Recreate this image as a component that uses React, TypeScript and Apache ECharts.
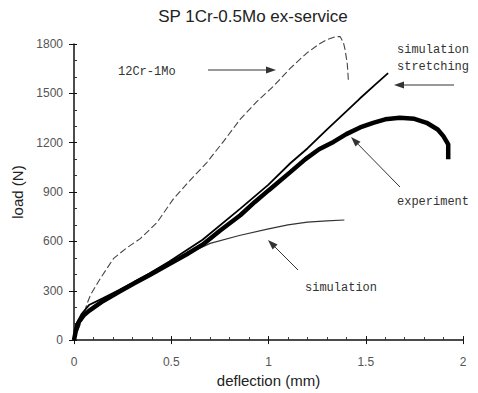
import React, { useEffect, useRef } from "react";
import * as echarts from "echarts";

const titleText = "SP 1Cr-0.5Mo ex-service";
const xName = "deflection (mm)";
const yName = "load (N)";

// 12Cr-1Mo (dashed)
const crX = [0, 0.02, 0.05, 0.065, 0.085, 0.136, 0.204, 0.27, 0.341, 0.427, 0.512, 0.6, 0.684, 0.77, 0.855, 0.94, 1.026, 1.11, 1.197, 1.26, 1.3, 1.34, 1.368, 1.385, 1.394, 1.405, 1.411];
const crY = [0, 60, 150, 215, 275, 376, 497, 560, 617, 715, 860, 975, 1081, 1210, 1343, 1450, 1544, 1650, 1745, 1800, 1826, 1843, 1846, 1810, 1765, 1680, 1574];

// simulation stretching (thin solid)
const stX = [0, 0.009, 0.04, 0.077, 0.15, 0.232, 0.387, 0.49, 0.661, 0.855, 1.0, 1.112, 1.2, 1.3, 1.4, 1.471, 1.55, 1.615];
const stY = [0, 92, 160, 213, 255, 305, 405, 478, 610, 799, 945, 1075, 1165, 1280, 1390, 1470, 1555, 1623];

// experiment (thick)
const exX = [0, 0.01, 0.026, 0.05, 0.077, 0.15, 0.232, 0.31, 0.387, 0.49, 0.58, 0.661, 0.75, 0.855, 0.93, 1.0, 1.112, 1.19, 1.26, 1.334, 1.4, 1.471, 1.538, 1.6, 1.675, 1.75, 1.813, 1.87, 1.899, 1.924, 1.924];
const exY = [0, 60, 113, 150, 178, 238, 294, 345, 394, 462, 522, 580, 665, 759, 840, 910, 1021, 1100, 1160, 1205, 1252, 1293, 1321, 1342, 1351, 1345, 1321, 1280, 1240, 1190, 1099];

// simulation (thin, lower)
const smX = [0, 0.01, 0.026, 0.05, 0.077, 0.15, 0.232, 0.387, 0.49, 0.593, 0.7, 0.85, 1.0, 1.1, 1.2, 1.3, 1.39];
const smY = [0, 60, 110, 148, 172, 230, 290, 390, 460, 530, 588, 636, 676, 700, 717, 725, 730];

const xTicks = { min: 0, max: 2, interval: 0.5 };
const yTicks = { min: 0, max: 1800, interval: 300 };

const pairs = (xs: number[], ys: number[]) => xs.map((x, i) => [x, ys[i]]);

function arrow(x1: number, y1: number, x2: number, y2: number, color = "#333") {
  const a = Math.atan2(y2 - y1, x2 - x1);
  const hl = 10;
  const hw = 3.5;
  const bx = x2 - hl * Math.cos(a);
  const by = y2 - hl * Math.sin(a);
  const px = -Math.sin(a) * hw;
  const py = Math.cos(a) * hw;
  return [
    { type: "line", shape: { x1, y1, x2: bx, y2: by }, style: { stroke: color, lineWidth: 1 } },
    {
      type: "polygon",
      shape: { points: [[x2, y2], [bx + px, by + py], [bx - px, by - py]] },
      style: { fill: color },
    },
  ];
}

const annFont = "Liberation Mono";
function label(text: string, x: number, y: number) {
  return {
    type: "text",
    x,
    y,
    style: {
      text,
      fill: "#333",
      fontSize: 12,
      fontFamily: annFont,
      verticalAlign: "middle",
      align: "left",
    },
  };
}

export default function App() {
  const ref = useRef<HTMLDivElement>(null);
  useEffect(() => {
    if (!ref.current) return;
    const chart = echarts.init(ref.current, null, { renderer: "svg" });
    const axisFont = "Liberation Sans";
    chart.setOption({
      animation: false,
      backgroundColor: "#fff",
      title: {
        text: titleText,
        left: 248,
        textAlign: "center",
        top: 3,
        textStyle: { fontSize: 17, fontWeight: "normal", color: "#222", fontFamily: axisFont },
      },
      grid: { left: 74, right: 15, top: 44, bottom: 51 },
      xAxis: [
        {
          type: "value",
          ...xTicks,
          name: xName,
          nameLocation: "middle",
          nameGap: 32,
          nameTextStyle: { fontSize: 15, color: "#222", fontFamily: axisFont },
          axisLine: { show: true, lineStyle: { color: "#111", width: 1.5 } },
          axisTick: { show: true, inside: true, length: 4, lineStyle: { color: "#111" } },
          minorTick: { show: true, splitNumber: 5, length: 3, lineStyle: { color: "#333" } },
          splitLine: { show: false },
          axisLabel: { fontSize: 12, color: "#555", margin: 16, fontFamily: axisFont },
        },
        {
          type: "value",
          ...xTicks,
          position: "bottom",
          axisLine: { show: false },
          axisTick: { show: true, inside: false, length: 4, lineStyle: { color: "#111" } },
          axisLabel: { show: false },
          splitLine: { show: false },
        },
      ],
      yAxis: [
        {
          type: "value",
          ...yTicks,
          name: yName,
          nameLocation: "middle",
          nameGap: 38,
          nameTextStyle: { fontSize: 15, color: "#222", fontFamily: axisFont },
          axisLine: { show: true, lineStyle: { color: "#111", width: 1.5 } },
          axisTick: { show: true, inside: true, length: 3, lineStyle: { color: "#111" } },
          minorTick: { show: true, splitNumber: 3, length: 3, lineStyle: { color: "#333" } },
          splitLine: { show: false },
          axisLabel: {
            fontSize: 12,
            color: "#555",
            margin: 11,
            fontFamily: axisFont,
            formatter: (v: number) => String(v),
          },
        },
        {
          type: "value",
          ...yTicks,
          position: "left",
          axisLine: { show: false },
          axisTick: { show: true, inside: false, length: 5, lineStyle: { color: "#111" } },
          axisLabel: { show: false },
          splitLine: { show: false },
        },
      ],
      series: [
        {
          name: "12Cr-1Mo",
          type: "line",
          data: pairs(crX, crY),
          symbol: "none",
          clip: false,
          lineStyle: { color: "#444", width: 1.1, type: [7, 3] },
        },
        {
          name: "simulation",
          type: "line",
          data: pairs(smX, smY),
          symbol: "none",
          clip: false,
          lineStyle: { color: "#333", width: 1.2 },
        },
        {
          name: "experiment",
          type: "line",
          data: pairs(exX, exY),
          symbol: "none",
          clip: false,
          lineStyle: { color: "#000", width: 4.5 },
        },
        {
          name: "simulation stretching",
          type: "line",
          data: pairs(stX, stY),
          symbol: "none",
          clip: false,
          lineStyle: { color: "#000", width: 1.8 },
        },
      ],
      graphic: [
        label("12Cr-1Mo", 118, 72),
        label("simulation", 397, 50),
        label("stretching", 397, 67),
        label("experiment", 397, 202),
        label("simulation", 305, 288),
        ...arrow(208, 70, 276, 70),
        ...arrow(454, 85, 394, 85),
        ...arrow(400, 187, 351, 137),
        ...arrow(298, 270, 268, 240),
      ],
    });
    return () => chart.dispose();
  }, []);
  return (
    <div
      ref={ref}
      style={{ position: "absolute", left: 0, top: 0, width: 478, height: 393 }}
    />
  );
}
